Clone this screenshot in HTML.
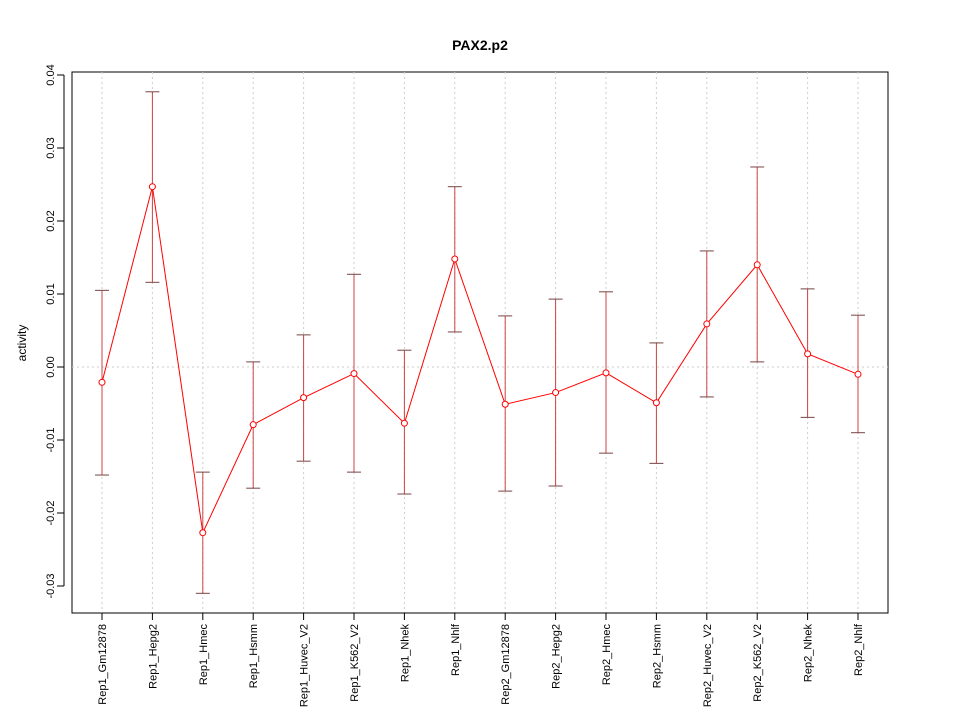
<!DOCTYPE html>
<html><head><meta charset="utf-8"><style>body{margin:0;background:#fff}svg{display:block;font-family:"Liberation Sans",sans-serif}</style></head>
<body>
<svg id="chart" width="960" height="720" xmlns="http://www.w3.org/2000/svg">
<rect width="960" height="720" fill="#fff"/>
<text x="480" y="50" text-anchor="middle" font-size="14" font-weight="bold">PAX2.p2</text>
<text transform="translate(26,343) rotate(-90)" text-anchor="middle" font-size="12">activity</text>
<rect x="72" y="72" width="816" height="541" fill="none" stroke="#000"/>
<g id="grid"></g><g id="axes"></g><g id="marks"></g>
</svg>
<script>
const categories=["Rep1_Gm12878","Rep1_Hepg2","Rep1_Hmec","Rep1_Hsmm","Rep1_Huvec_V2","Rep1_K562_V2","Rep1_Nhek","Rep1_Nhlf","Rep2_Gm12878","Rep2_Hepg2","Rep2_Hmec","Rep2_Hsmm","Rep2_Huvec_V2","Rep2_K562_V2","Rep2_Nhek","Rep2_Nhlf"];
const values=[-0.0021,0.0247,-0.0227,-0.0079,-0.0042,-0.0009,-0.0077,0.0148,-0.0051,-0.0035,-0.0008,-0.0049,0.0059,0.0140,0.0018,-0.0010];
const upper=[0.0105,0.0377,-0.0144,0.0007,0.0044,0.0127,0.0023,0.0247,0.0070,0.0093,0.0103,0.0033,0.0159,0.0274,0.0107,0.0071];
const lower=[-0.0148,0.0116,-0.0310,-0.0166,-0.0129,-0.0144,-0.0174,0.0048,-0.0170,-0.0163,-0.0118,-0.0132,-0.0041,0.0007,-0.0069,-0.0090];
const yTicks=[-0.03,-0.02,-0.01,0,0.01,0.02,0.03,0.04];
const yTickLabels=["-0.03","-0.02","-0.01","0.00","0.01","0.02","0.03","0.04"];
const NS="http://www.w3.org/2000/svg";
function X(i){return 102+i*50.4;}
function Y(v){return 367-v*7300;}
function mk(tag,attrs,parent){const e=document.createElementNS(NS,tag);for(const k in attrs)e.setAttribute(k,attrs[k]);document.getElementById(parent).appendChild(e);return e;}
// grid
categories.forEach((c,i)=>{const l=mk("line",{x1:X(i),x2:X(i),y1:72,y2:613,stroke:"#ccc","stroke-dasharray":"2,3"},"grid");

});
const hz=mk("line",{x1:72,x2:888,y1:Y(0),y2:Y(0),stroke:"#ccc","stroke-dasharray":"2,3"},"grid");


// y axis
const ya=mk("line",{x1:64,x2:64,y1:Y(yTicks[0]),y2:Y(yTicks[yTicks.length-1]),stroke:"#000"},"axes");


yTicks.forEach((t,i)=>{const tk=mk("line",{x1:57,x2:64,y1:Y(t),y2:Y(t),stroke:"#000"},"axes");


const tx=mk("text",{transform:`translate(54,${Y(t)}) rotate(-90)`,"text-anchor":"middle","font-size":"11"},"axes");tx.textContent=yTickLabels[i];

});
// x axis
const xa=mk("line",{x1:X(0),x2:X(categories.length-1),y1:613,y2:613,stroke:"#000"},"axes");


categories.forEach((c,i)=>{const tk=mk("line",{x1:X(i),x2:X(i),y1:613,y2:620,stroke:"#000"},"axes");


const tx=mk("text",{transform:`translate(${X(i)+4},624) rotate(-90)`,"text-anchor":"end","font-size":"11"},"axes");tx.textContent=c;

});
// error bars
categories.forEach((c,i)=>{const x=X(i);
const b=mk("line",{x1:x,x2:x,y1:Y(upper[i]),y2:Y(lower[i]),stroke:"#c44"},"marks");


const t=mk("line",{x1:x-7,x2:x+7,y1:Y(upper[i]),y2:Y(upper[i]),stroke:"#744"},"marks");


const bt=mk("line",{x1:x-7,x2:x+7,y1:Y(lower[i]),y2:Y(lower[i]),stroke:"#744"},"marks");

});
const pl=mk("polyline",{points:values.map((v,i)=>X(i)+","+Y(v)).join(" "),fill:"none",stroke:"#f00"},"marks");


values.forEach((v,i)=>{const p=mk("circle",{cx:X(i),cy:Y(v),r:3,fill:"#fff",stroke:"#f00"},"marks");

});
</script>
</body></html>
